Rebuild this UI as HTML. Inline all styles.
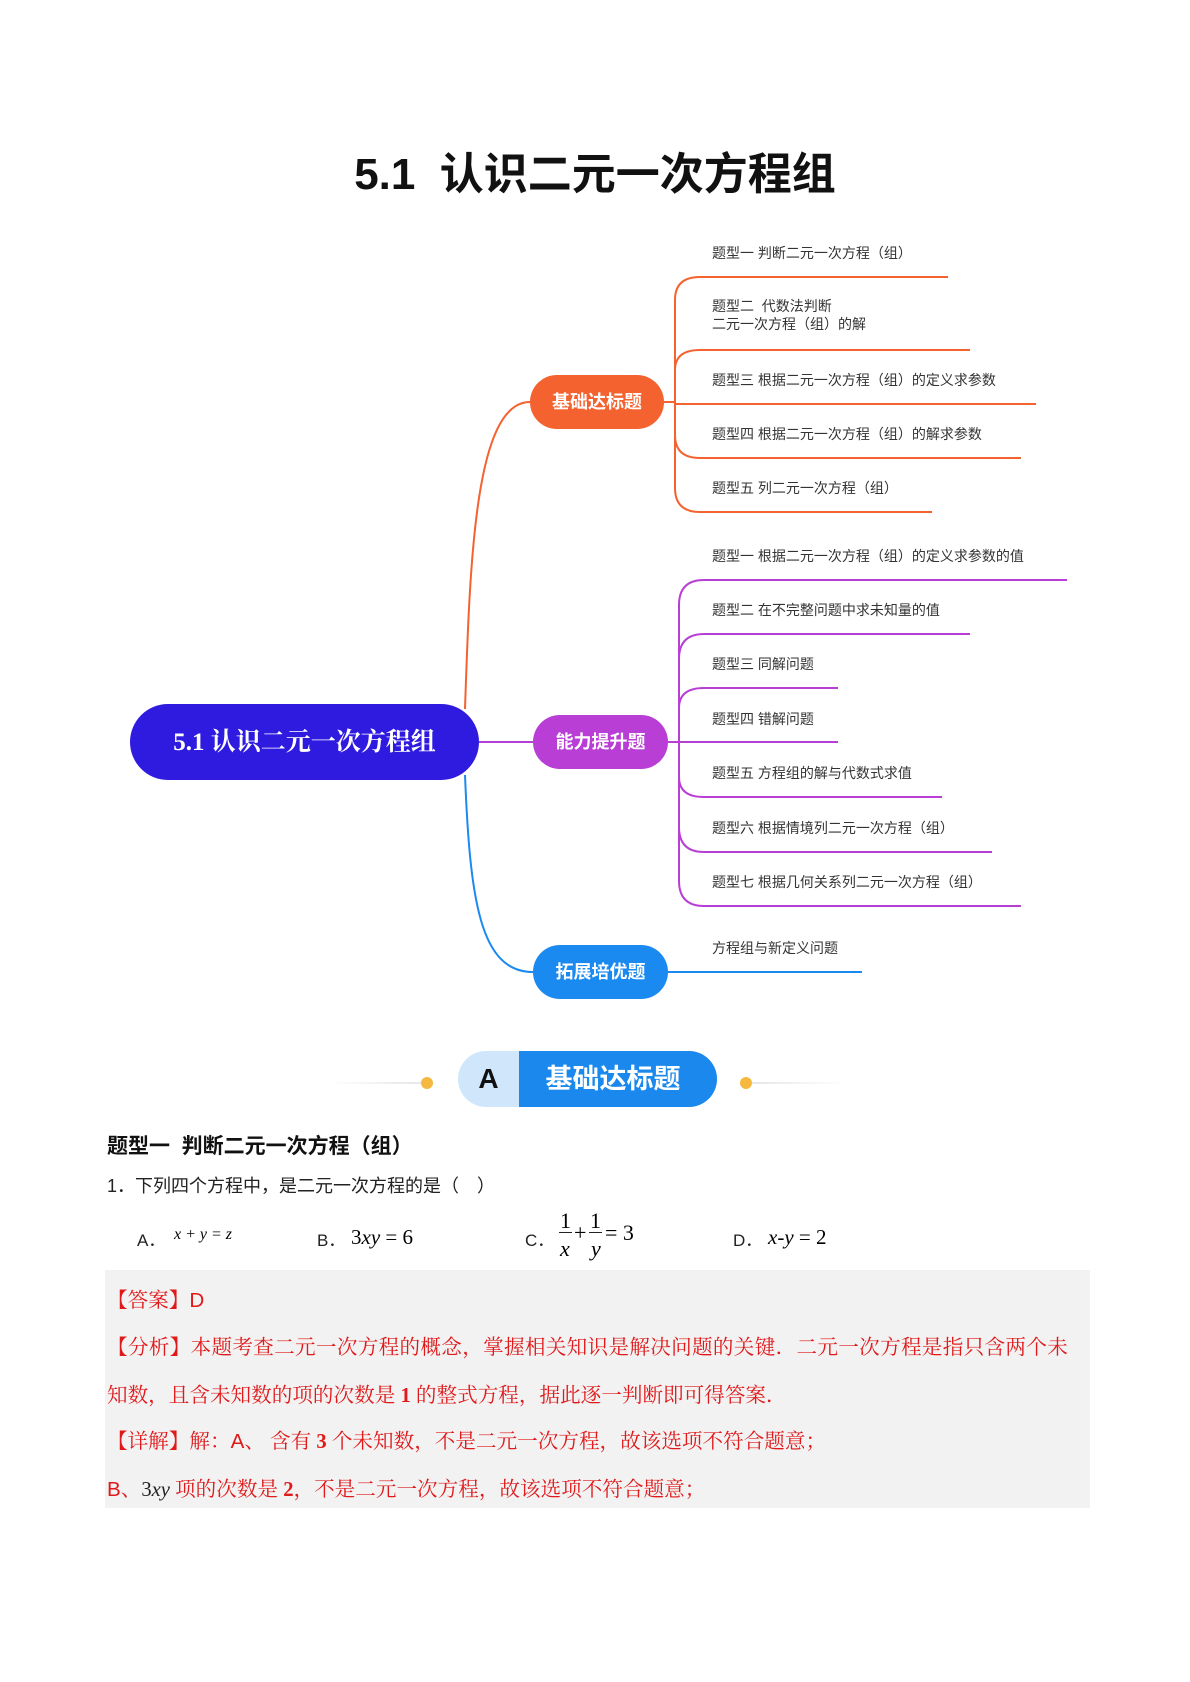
<!DOCTYPE html>
<html><head><meta charset="utf-8"><style>
body{margin:0;width:1190px;height:1682px;background:#fff;position:relative;overflow:hidden;font-family:"Liberation Sans","Noto Sans CJK SC",sans-serif;}
.a{position:absolute;white-space:nowrap;}
.t{font-size:14px;color:#333;line-height:18px;}
.node{position:absolute;color:#fff;font-weight:bold;display:flex;align-items:center;justify-content:center;}
.r{color:#e0191b;font-family:"Liberation Serif","Noto Serif CJK SC",serif;font-size:20.6px;}
.m{font-family:"Liberation Serif",serif;font-style:italic;}
</style></head><body>
<div class="a" style="left:0;width:1190px;text-align:center;top:150px;font-size:44px;font-weight:bold;color:#111;line-height:50px;">5.1&nbsp; 认识二元一次方程组</div>

<svg class="a" style="left:0;top:0" width="1190" height="1040" fill="none" stroke-width="2">
<g stroke="#f4622f">
<path d="M465 709 C470 560 475 402 530 402"/>
<path d="M664 402 H675"/>
<path d="M675 402 V300 Q675 277 700 277 H948"/>
<path d="M675 402 V370 Q675 350 700 350 H970"/>
<path d="M675 404 H1036"/>
<path d="M675 402 V435 Q675 458 700 458 H1021"/>
<path d="M675 402 V488 Q675 512 700 512 H932"/>
</g>
<g stroke="#b93ed6">
<path d="M479 742 H533"/>
<path d="M668 742 H679"/>
<path d="M679 742 V605 Q679 580 704 580 H1067"/>
<path d="M679 742 V659 Q679 634 704 634 H970"/>
<path d="M679 742 V708 Q679 688 704 688 H838"/>
<path d="M679 742 H838"/>
<path d="M679 742 V777 Q679 797 704 797 H942"/>
<path d="M679 742 V827 Q679 852 704 852 H992"/>
<path d="M679 742 V881 Q679 906 704 906 H1021"/>
</g>
<g stroke="#1b8af0">
<path d="M465 775 C470 900 480 972 533 972"/>
<path d="M668 972 H862"/>
</g>
</svg>

<div class="node" style="left:130px;top:704px;width:349px;height:76px;border-radius:38px;background:#2f1be0;font-size:25px;font-family:'Liberation Serif','Noto Serif CJK SC',serif;padding-bottom:4px;box-sizing:border-box;">5.1 认识二元一次方程组</div>
<div class="node" style="left:530px;top:375px;width:134px;height:54px;border-radius:27px;background:#f4622f;font-size:18px;padding-bottom:3px;box-sizing:border-box;">基础达标题</div>
<div class="node" style="left:533px;top:715px;width:135px;height:54px;border-radius:27px;background:#b93ed6;font-size:18px;padding-bottom:3px;box-sizing:border-box;">能力提升题</div>
<div class="node" style="left:533px;top:945px;width:135px;height:54px;border-radius:27px;background:#1b8af0;font-size:18px;padding-bottom:3px;box-sizing:border-box;">拓展培优题</div>

<div class="a t" style="left:712px;top:244px">题型一 判断二元一次方程（组）</div>
<div class="a t" style="left:712px;top:297px">题型二&nbsp; 代数法判断<br>二元一次方程（组）的解</div>
<div class="a t" style="left:712px;top:371px">题型三 根据二元一次方程（组）的定义求参数</div>
<div class="a t" style="left:712px;top:425px">题型四 根据二元一次方程（组）的解求参数</div>
<div class="a t" style="left:712px;top:479px">题型五 列二元一次方程（组）</div>
<div class="a t" style="left:712px;top:547px">题型一 根据二元一次方程（组）的定义求参数的值</div>
<div class="a t" style="left:712px;top:601px">题型二 在不完整问题中求未知量的值</div>
<div class="a t" style="left:712px;top:655px">题型三 同解问题</div>
<div class="a t" style="left:712px;top:710px">题型四 错解问题</div>
<div class="a t" style="left:712px;top:764px">题型五 方程组的解与代数式求值</div>
<div class="a t" style="left:712px;top:819px">题型六 根据情境列二元一次方程（组）</div>
<div class="a t" style="left:712px;top:873px">题型七 根据几何关系列二元一次方程（组）</div>
<div class="a t" style="left:712px;top:939px">方程组与新定义问题</div>

<!-- banner -->
<div class="a" style="left:328px;top:1082px;width:95px;height:2px;background:linear-gradient(90deg,#fff,#e6e6e6)"></div>
<div class="a" style="left:421px;top:1077px;width:12px;height:12px;border-radius:6px;background:#f6b940"></div>
<div class="a" style="left:740px;top:1077px;width:12px;height:12px;border-radius:6px;background:#f6b940"></div>
<div class="a" style="left:752px;top:1082px;width:95px;height:2px;background:linear-gradient(90deg,#e6e6e6,#fff)"></div>
<div class="a" style="left:458px;top:1051px;width:259px;height:56px;border-radius:28px;background:#cfe6fb;overflow:hidden;">
<div class="a" style="left:0;top:0;width:61px;height:56px;line-height:56px;text-align:center;font-size:28px;font-weight:bold;color:#111;">A</div>
<div class="a" style="left:61px;top:0;width:198px;height:56px;line-height:56px;background:#1a88ec;color:#fff;font-size:27px;font-weight:bold;text-align:center;padding-right:10px;box-sizing:border-box;">基础达标题</div>
</div>

<div class="a" style="left:107px;top:1130px;font-size:21px;font-weight:bold;color:#111;">题型一&nbsp; 判断二元一次方程（组）</div>
<div class="a" style="left:107px;top:1172px;font-size:18px;color:#222;">1．下列四个方程中，是二元一次方程的是（　）</div>

<div class="a" style="left:137px;top:1226px;font-size:17px;color:#222;">A．</div>
<div class="a m" style="left:174px;top:1226px;font-size:16px;">x + y = z</div>
<div class="a" style="left:317px;top:1226px;font-size:17px;color:#222;">B．</div>
<div class="a m" style="left:351px;top:1225px;font-size:21px;"><span style="font-style:normal">3</span>xy <span style="font-style:normal">= 6</span></div>
<div class="a" style="left:525px;top:1226px;font-size:17px;color:#222;">C．</div>
<div class="a" style="left:560px;top:1209px;font-family:'Liberation Serif',serif;font-size:22px;line-height:24px;">
<div class="a" style="left:0;top:0">1</div><div class="a" style="left:-1px;top:23px;width:13px;height:1px;background:#222"></div><div class="a m" style="left:0;top:28px">x</div>
<div class="a" style="left:14px;top:12px">+</div>
<div class="a" style="left:30px;top:0">1</div><div class="a" style="left:29px;top:23px;width:13px;height:1px;background:#222"></div><div class="a m" style="left:31px;top:28px">y</div>
<div class="a" style="left:45px;top:12px">= 3</div>
</div>
<div class="a" style="left:733px;top:1226px;font-size:17px;color:#222;">D．</div>
<div class="a m" style="left:768px;top:1225px;font-size:21px;">x<span style="font-style:normal">-</span>y <span style="font-style:normal">= 2</span></div>

<div class="a" style="left:105px;top:1270px;width:985px;height:238px;background:#f2f2f2"></div>
<div class="a r" style="left:107px;top:1283px">【答案】<span style="font-family:'Liberation Sans',sans-serif">D</span></div>
<div class="a r" style="left:107px;top:1330px;letter-spacing:0.3px">【分析】本题考查二元一次方程的概念，掌握相关知识是解决问题的关键．二元一次方程是指只含两个未</div>
<div class="a r" style="left:107px;top:1378px">知数，且含未知数的项的次数是 <b>1</b> 的整式方程，据此逐一判断即可得答案．</div>
<div class="a r" style="left:107px;top:1424px">【详解】解：<span style="font-family:'Liberation Sans',sans-serif">A</span>、 含有 <b>3</b> 个未知数，不是二元一次方程，故该选项不符合题意；</div>
<div class="a r" style="left:107px;top:1472px"><span style="font-family:'Liberation Sans',sans-serif">B</span>、<span style="color:#222">3<i>xy</i></span> 项的次数是 <b>2</b>，不是二元一次方程，故该选项不符合题意；</div>
</body></html>
